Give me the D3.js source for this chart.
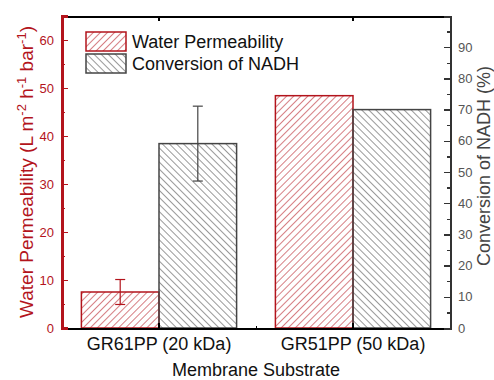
<!DOCTYPE html>
<meta charset="utf-8">
<script src="https://d3js.org/d3.v7.min.js"></script>
<style>
body { margin:0; background:#fff; }
svg { font-family:"Liberation Sans", Arial, sans-serif; }
.axis path, .axis line { shape-rendering:crispEdges; }
</style>
<body>
</body>
<script>

var categories = ["GR61PP (20 kDa)", "GR51PP (50 kDa)"];
var series = ["Water Permeability", "Conversion of NADH"];
var permeability = [7.5, 48.4];
var permeabilityErr = [2.6, 0];
var conversion = [59.1, 70.0];
var conversionErr = [12.0, 0];
var leftTicks = [0, 10, 20, 30, 40, 50, 60];
var rightTicks = [0, 10, 20, 30, 40, 50, 60, 70, 80, 90];

var red = "#b3141c", dark = "#444";

var margin = {top: 16, right: 44, bottom: 52, left: 62};
var width = 494 - margin.left - margin.right,
    height = 380 - margin.top - margin.bottom;

var root = d3.select('body').append('svg')
  .attr('width', 494)
  .attr('height', 380);

// hatch patterns
var defs = root.append('defs');
function hatch(id, color, angle) {
  var p = defs.append('pattern')
    .attr('id', id)
    .attr('patternUnits', 'userSpaceOnUse')
    .attr('width', 5).attr('height', 5)
    .attr('patternTransform', 'rotate(' + angle + ')');
  p.append('line')
    .attr('x1', 0).attr('y1', 0).attr('x2', 0).attr('y2', 5)
    .attr('stroke', color).attr('stroke-width', 1.1);
}
hatch('hRed', red, 45);
hatch('hDark', dark, -45);

var svg = root.append('g')
  .attr('transform', 'translate(' + margin.left + ',' + margin.top + ')');

// scales
var x = d3.scaleBand().domain(categories).range([0, width]);
var xs = d3.scaleBand().domain(series).range([x.bandwidth() * 0.1, x.bandwidth() * 0.9]);
var yL = d3.scaleLinear().domain([0, 65]).range([height, 0]);
var yR = d3.scaleLinear().domain([0, 100]).range([height, 0]);

// bars
var rows = categories.map(function(c, i) {
  return [
    {cat: c, s: series[0], v: permeability[i], e: permeabilityErr[i], y: yL, fill: 'url(#hRed)', col: red},
    {cat: c, s: series[1], v: conversion[i], e: conversionErr[i], y: yR, fill: 'url(#hDark)', col: dark}
  ];
});
var bars = [].concat.apply([], rows);

svg.selectAll('.bar')
  .data(bars)
  .enter().append('rect')
  .attr('class', 'bar')
  .attr('x', function(d) { return x(d.cat) + xs(d.s); })
  .attr('width', xs.bandwidth())
  .attr('y', function(d) { return d.y(d.v); })
  .attr('height', function(d) { return height - d.y(d.v); })
  .attr('fill', function(d) { return d.fill; })
  .attr('stroke', function(d) { return d.col; })
  .attr('stroke-width', 1.5);

// error bars
var errs = svg.selectAll('.err')
  .data(bars.filter(function(d) { return d.e > 0; }))
  .enter().append('g')
  .attr('class', 'err')
  .attr('stroke', function(d) { return d.col; })
  .attr('stroke-width', 1.2);
errs.append('line')
  .attr('x1', function(d) { return x(d.cat) + xs(d.s) + xs.bandwidth() / 2; })
  .attr('x2', function(d) { return x(d.cat) + xs(d.s) + xs.bandwidth() / 2; })
  .attr('y1', function(d) { return d.y(d.v + d.e); })
  .attr('y2', function(d) { return d.y(d.v - d.e); });
[1, -1].forEach(function(sgn) {
  errs.append('line')
    .attr('x1', function(d) { return x(d.cat) + xs(d.s) + xs.bandwidth() / 2 - 5; })
    .attr('x2', function(d) { return x(d.cat) + xs(d.s) + xs.bandwidth() / 2 + 5; })
    .attr('y1', function(d) { return d.y(d.v + sgn * d.e); })
    .attr('y2', function(d) { return d.y(d.v + sgn * d.e); });
});

// axes
var minorL = d3.range(5, 65, 10);
var minorR = d3.range(5, 100, 10);
var xPos = d3.scaleLinear().domain([0, width]).range([0, width]);

function style(g, color, lw) {
  g.select('.domain').attr('stroke', color).attr('stroke-width', lw);
  g.selectAll('.tick line').attr('stroke', color).attr('stroke-width', 1.5);
  g.selectAll('.tick text').attr('fill', color).attr('font-size', 13)
    .attr('font-family', '"Liberation Sans", Arial, sans-serif');
}

// bottom
svg.append('g').attr('class', 'axis')
  .attr('transform', 'translate(0,' + height + ')')
  .call(d3.axisBottom(xPos).tickValues([x.bandwidth()]).tickSize(-2).tickFormat(''))
  .call(style, '#000', 2);
svg.append('g').attr('class', 'axis')
  .attr('transform', 'translate(0,' + height + ')')
  .call(d3.axisBottom(x).tickSize(-5).tickPadding(9))
  .call(style, '#000', 2)
  .selectAll('.tick text').attr('font-size', 18).attr('fill', '#111');

// top
svg.append('g').attr('class', 'axis')
  .call(d3.axisTop(xPos).tickValues([x.bandwidth()]).tickSize(-2).tickFormat(''))
  .call(style, '#000', 2);
svg.append('g').attr('class', 'axis')
  .call(d3.axisTop(x).tickSize(-5).tickFormat(''))
  .call(style, '#000', 2);

// left
svg.append('g').attr('class', 'axis')
  .call(d3.axisLeft(yL).tickValues(minorL).tickSize(-3).tickFormat(''))
  .call(style, red, 2.5);
svg.append('g').attr('class', 'axis')
  .call(d3.axisLeft(yL).tickValues(leftTicks).tickSize(-6).tickPadding(8))
  .call(style, red, 2.5);

// right
svg.append('g').attr('class', 'axis')
  .attr('transform', 'translate(' + width + ',0)')
  .call(d3.axisRight(yR).tickValues(minorR).tickSize(-3).tickFormat(''))
  .call(style, '#333', 2);
svg.append('g').attr('class', 'axis')
  .attr('transform', 'translate(' + width + ',0)')
  .call(d3.axisRight(yR).tickValues(rightTicks).tickSize(-6).tickPadding(8))
  .call(style, '#333', 2)
  .selectAll('.tick text').attr('fill', '#555');

// axis titles
root.append('text')
  .attr('x', margin.left + width / 2).attr('y', 376)
  .attr('text-anchor', 'middle').attr('font-size', 18).attr('fill', '#111')
  .text('Membrane Substrate');

var lt = root.append('text')
  .attr('transform', 'translate(33,' + (margin.top + height / 2) + ') rotate(-90)')
  .attr('text-anchor', 'middle').attr('font-size', 19).attr('fill', red);
lt.append('tspan').text('Water Permeability (L m');
lt.append('tspan').attr('dy', -7).attr('font-size', 13).text('-2');
lt.append('tspan').attr('dy', 7).text(' h');
lt.append('tspan').attr('dy', -7).attr('font-size', 13).text('-1');
lt.append('tspan').attr('dy', 7).text(' bar');
lt.append('tspan').attr('dy', -7).attr('font-size', 13).text('-1');
lt.append('tspan').attr('dy', 7).text(')');

root.append('text')
  .attr('transform', 'translate(490,166) rotate(-90)')
  .attr('text-anchor', 'middle').attr('font-size', 18).attr('fill', '#444')
  .text('Conversion of NADH (%)');

// legend
var legend = svg.selectAll('.legend')
  .data([{s: series[0], fill: 'url(#hRed)', col: red}, {s: series[1], fill: 'url(#hDark)', col: dark}])
  .enter().append('g')
  .attr('class', 'legend')
  .attr('transform', function(d, i) { return 'translate(24,' + (16 + i * 22) + ')'; });
legend.append('rect')
  .attr('width', 40).attr('height', 19)
  .attr('fill', function(d) { return d.fill; })
  .attr('stroke', function(d) { return d.col; })
  .attr('stroke-width', 1.5);
legend.append('text')
  .attr('x', 46).attr('y', 16)
  .attr('font-size', 18).attr('fill', '#111')
  .text(function(d) { return d.s; });

</script>
